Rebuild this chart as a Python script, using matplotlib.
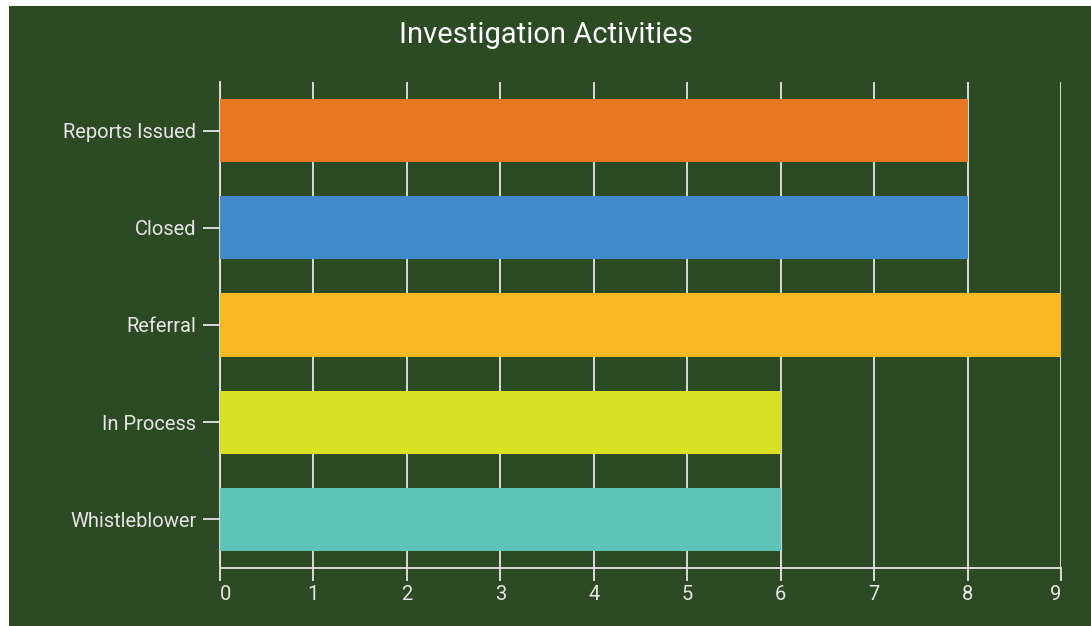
import matplotlib
matplotlib.use("Agg")
import matplotlib.pyplot as plt
from matplotlib.patches import Rectangle

# data
categories = ["Reports Issued", "Closed", "Referral", "In Process", "Whistleblower"]
values = [8, 8, 9, 6, 6]
bar_colors = ["#e87722", "#428bca", "#f6b924", "#d7e022", "#5ec4b7"]
x_ticks = list(range(0, 10))

BG = "#2c4a23"
FG = "#e6e6e6"

plt.rcParams["font.family"] = ["Roboto", "DejaVu Sans"]

fig = plt.figure(figsize=(10.91, 6.26), dpi=100, facecolor="white")
# green panel, small white strip on left / top
fig.patches.append(Rectangle((9 / 1091, 0), 1 - 9 / 1091, 1 - 6 / 626,
                             transform=fig.transFigure, facecolor=BG,
                             edgecolor="none", zorder=-1))

ax = fig.add_axes([220 / 1091, 1 - 568 / 626, (1061 - 220) / 1091, (568 - 82) / 626])
ax.set_facecolor(BG)

ypos = list(range(len(categories)))
ax.barh(ypos, values, height=0.65, color=bar_colors, zorder=3)

ax.set_ylim(len(categories) - 0.5, -0.5)
ax.set_xlim(0, 9)
ax.set_yticks(ypos)
ax.set_yticklabels(categories)
ax.set_xticks(x_ticks)

ax.grid(axis="x", color=FG, linewidth=1.3, zorder=1)
ax.set_axisbelow(True)

for s in ["top", "right"]:
    ax.spines[s].set_visible(False)
for s in ["left", "bottom"]:
    ax.spines[s].set_color(FG)
    ax.spines[s].set_linewidth(1.3)

ax.tick_params(axis="y", length=12, width=1.3, color=FG, labelcolor=FG,
               labelsize=14.5, pad=5)
ax.tick_params(axis="x", length=9, width=1.3, color=FG, labelcolor=FG,
               labelsize=14.5, pad=3)

# first / last x labels kept inside the plot area
xlabels = ax.get_xticklabels()
xlabels[0].set_ha("left")
xlabels[-1].set_ha("right")

fig.text(0.5, 1 - 35 / 626, "Investigation Activities", color="white",
         fontsize=21, ha="center", va="center")

fig.savefig("out.png", dpi=100, facecolor=fig.get_facecolor())
